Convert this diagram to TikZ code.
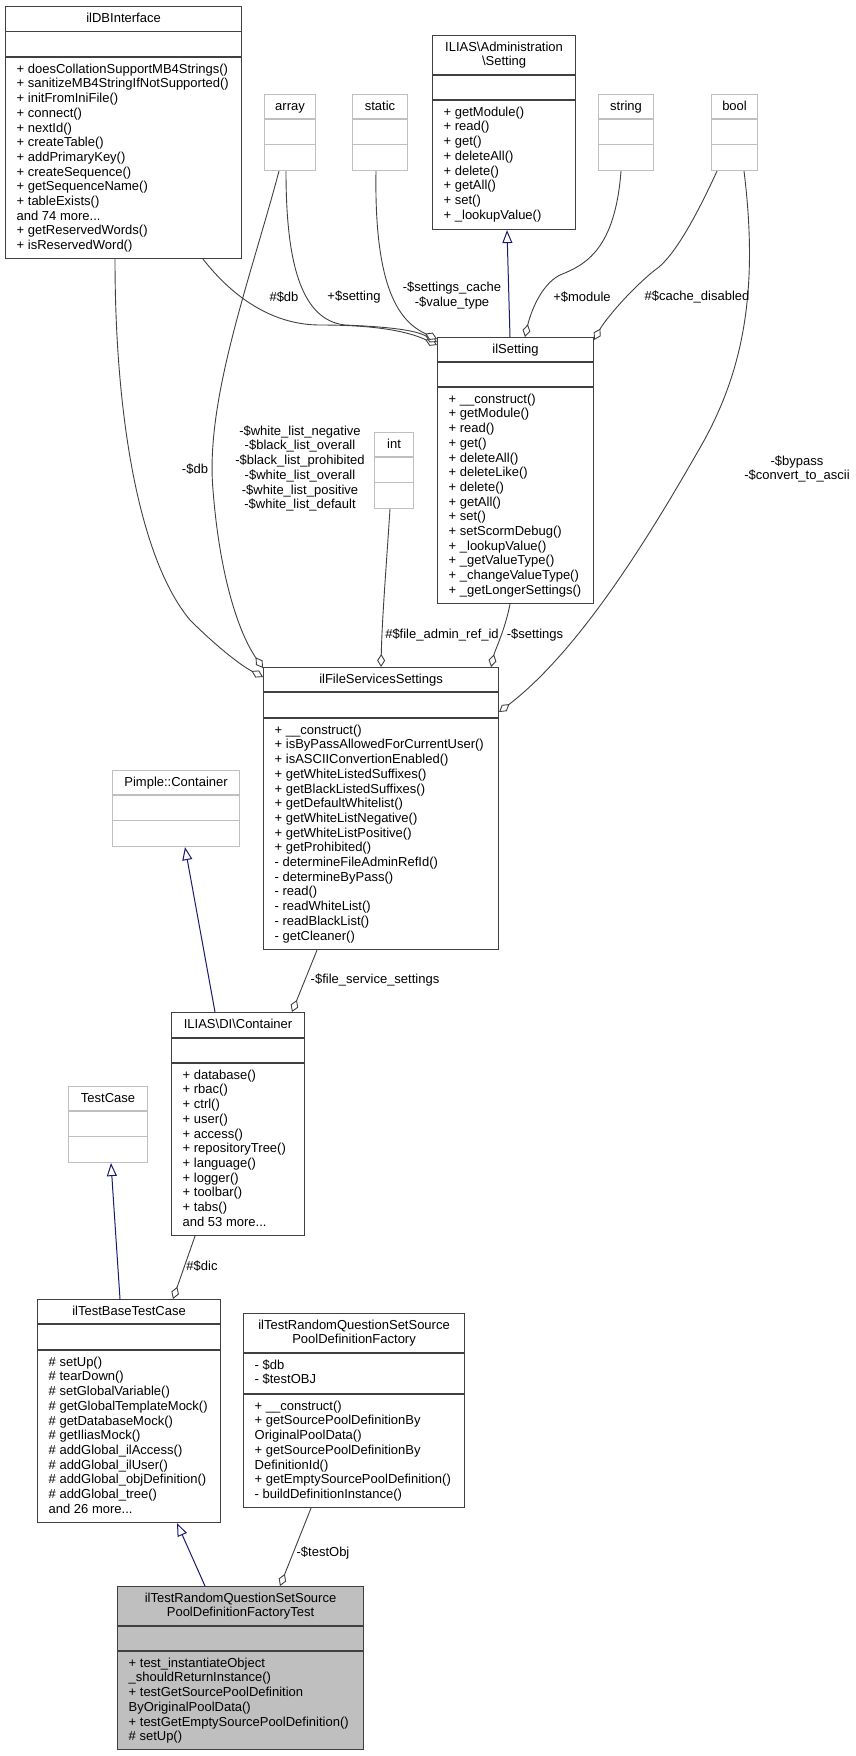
\documentclass[tikz,border=0pt]{standalone}
\usepackage{fontspec}
\setmainfont{Liberation Sans}
\usetikzlibrary{arrows.meta, calc, positioning}
\definecolor{cdark}{HTML}{404040}
\definecolor{clight}{HTML}{BFBFBF}
\definecolor{cfocus}{HTML}{BFBFBF}
\definecolor{cblue}{HTML}{191970}

\newcommand{\mst}{\rule{0pt}{10.5pt}}
% frame of one class: style, name, x, y, width, title band, attribute band, method band
\newcommand{\umlclass}[8]{%
  \node[#1, minimum width=#5pt, minimum height=#6pt+#7pt+#8pt] (#2) at (#3,#4) {};
  \draw[#1, fill=none] ($(#2.north west)+(0,#6)$) -- ++(#5,0)
    ($(#2.north west)+(0,#6+#7)$) -- ++(#5,0);
}

\tikzset{
  cls/.style={draw=cdark, line width=1.1pt, inner sep=0pt, anchor=north west},
  clsgray/.style={cls, draw=clight},
  clsfocus/.style={cls, fill=cfocus},
  ttl/.style={align=center, inner sep=0pt},
  mem/.style={align=left, inner sep=0pt},
  lbl/.style={align=center, inner sep=0pt},
  agg/.style={draw=cdark, line width=0.9pt, -{Diamond[fill=white, length=13pt, width=8pt]}},
  inh/.style={draw=cblue, line width=1pt, -{Triangle[open, length=13pt, width=10pt]}}
}

\begin{document}
\begin{tikzpicture}[x=1pt, y=-1pt, font=\fontsize{13}{14.7}\selectfont]
\useasboundingbox (0,0) rectangle (855,1756);

% class frames
\umlclass{cls}{dbi}{5}{6}{236}{25.5}{25.5}{201}
\umlclass{clsgray}{arrayt}{264}{94}{51}{25}{25.5}{25.5}
\umlclass{clsgray}{statict}{352}{94}{55}{25}{25.5}{25.5}
\umlclass{cls}{admset}{432}{35}{143}{40}{25}{129}
\umlclass{clsgray}{stringt}{598}{94}{55}{25}{25.5}{25.5}
\umlclass{clsgray}{boolt}{711}{94}{46}{25}{25.5}{25.5}
\umlclass{cls}{setting}{437}{337}{156}{25}{25}{216}
\umlclass{clsgray}{intt}{374}{432}{39}{25}{25.5}{25.5}
\umlclass{cls}{fss}{263}{667}{235}{25}{26}{231}
\umlclass{clsgray}{pimple}{112}{770}{127}{25}{25.5}{25.5}
\umlclass{cls}{dic}{171}{1012}{133}{26}{25}{172}
\umlclass{clsgray}{testcase}{68}{1086}{79}{25}{25.5}{25.5}
\umlclass{cls}{base}{37}{1299}{183}{25}{26}{172}
\umlclass{cls}{factory}{243}{1313}{221}{40}{41}{113}
\umlclass{clsfocus}{test}{117}{1586}{246}{40}{25}{98}

% titles
\node[ttl, below=5.5pt of dbi.north] (dbi-t) {\mst ilDBInterface};
\node[ttl, below=5.5pt of arrayt.north] (arrayt-t) {\mst array};
\node[ttl, below=5.5pt of statict.north] (statict-t) {\mst static};
\node[ttl, below=5.5pt of admset.north] (admset-t) {\mst ILIAS\textbackslash Administration\\\textbackslash Setting};
\node[ttl, below=5.5pt of stringt.north] (stringt-t) {\mst string};
\node[ttl, below=5.5pt of boolt.north] (boolt-t) {\mst bool};
\node[ttl, below=5.5pt of setting.north] (setting-t) {\mst ilSetting};
\node[ttl, below=5.5pt of intt.north] (intt-t) {\mst int};
\node[ttl, below=5.5pt of fss.north] (fss-t) {\mst ilFileServicesSettings};
\node[ttl, below=5.5pt of pimple.north] (pimple-t) {\mst Pimple::Container};
\node[ttl, below=5.5pt of dic.north] (dic-t) {\mst ILIAS\textbackslash DI\textbackslash Container};
\node[ttl, below=5.5pt of testcase.north] (testcase-t) {\mst TestCase};
\node[ttl, below=5.5pt of base.north] (base-t) {\mst ilTestBaseTestCase};
\node[ttl, below=5.5pt of factory.north] (factory-t) {\mst ilTestRandomQuestionSetSource\\PoolDefinitionFactory};
\node[ttl, below=5.5pt of test.north] (test-t) {\mst ilTestRandomQuestionSetSource\\PoolDefinitionFactoryTest};

% members
\node[mem, below right=56.5pt and 11.5pt of dbi.north west] (dbi-m) {\mst + doesCollationSupportMB4Strings()\\+ sanitizeMB4StringIfNotSupported()\\+ initFromIniFile()\\+ connect()\\+ nextId()\\+ createTable()\\+ addPrimaryKey()\\+ createSequence()\\+ getSequenceName()\\+ tableExists()\\and 74 more...\\+ getReservedWords()\\+ isReservedWord()};
\node[mem, below right=70.5pt and 11.5pt of admset.north west] (admset-m) {\mst + getModule()\\+ read()\\+ get()\\+ deleteAll()\\+ delete()\\+ getAll()\\+ set()\\+ \_lookupValue()};
\node[mem, below right=55.5pt and 11.5pt of setting.north west] (setting-m) {\mst + \_\_construct()\\+ getModule()\\+ read()\\+ get()\\+ deleteAll()\\+ deleteLike()\\+ delete()\\+ getAll()\\+ set()\\+ setScormDebug()\\+ \_lookupValue()\\+ \_getValueType()\\+ \_changeValueType()\\+ \_getLongerSettings()};
\node[mem, below right=56.5pt and 11.5pt of fss.north west] (fss-m) {\mst + \_\_construct()\\+ isByPassAllowedForCurrentUser()\\+ isASCIIConvertionEnabled()\\+ getWhiteListedSuffixes()\\+ getBlackListedSuffixes()\\+ getDefaultWhitelist()\\+ getWhiteListNegative()\\+ getWhiteListPositive()\\+ getProhibited()\\- determineFileAdminRefId()\\- determineByPass()\\- read()\\- readWhiteList()\\- readBlackList()\\- getCleaner()};
\node[mem, below right=56.5pt and 11.5pt of dic.north west] (dic-m) {\mst + database()\\+ rbac()\\+ ctrl()\\+ user()\\+ access()\\+ repositoryTree()\\+ language()\\+ logger()\\+ toolbar()\\+ tabs()\\and 53 more...};
\node[mem, below right=56.5pt and 11.5pt of base.north west] (base-m) {\mst \# setUp()\\\# tearDown()\\\# setGlobalVariable()\\\# getGlobalTemplateMock()\\\# getDatabaseMock()\\\# getIliasMock()\\\# addGlobal\_ilAccess()\\\# addGlobal\_ilUser()\\\# addGlobal\_objDefinition()\\\# addGlobal\_tree()\\and 26 more...};
\node[mem, below right=45.5pt and 11.5pt of factory.north west] (factory-a) {\mst - \$db\\- \$testOBJ};
\node[mem, below right=86.5pt and 11.5pt of factory.north west] (factory-m) {\mst + \_\_construct()\\+ getSourcePoolDefinitionBy\\OriginalPoolData()\\+ getSourcePoolDefinitionBy\\DefinitionId()\\+ getEmptySourcePoolDefinition()\\- buildDefinitionInstance()};
\node[mem, below right=70.5pt and 11.5pt of test.north west] (test-m) {\mst + test\_instantiateObject\\\_shouldReturnInstance()\\+ testGetSourcePoolDefinition\\ByOriginalPoolData()\\+ testGetEmptySourcePoolDefinition()\\\# setUp()};

% inheritance
\draw[inh] ($(setting.north west)+(73,0)$) -- ($(admset.south west)+(75,0)$);
\draw[inh] ($(dic.north west)+(44,0)$) -- ($(pimple.south west)+(73,0)$);
\draw[inh] ($(base.north west)+(83,0)$) -- ($(testcase.south west)+(43,0)$);
\draw[inh] ($(test.north west)+(88,0)$) -- ($(base.south west)+(140,0)$);

% aggregation
\draw[agg] ($(dbi.south west)+(198,0)$) .. controls (235,300) and (275,325) .. (320,325) .. controls (370,325) and (405,330) .. ($(setting.north west)+(0,8)$);
\draw[agg] ($(arrayt.south west)+(22,0)$) .. controls (286,260) and (300,320) .. (345,325) .. controls (390,327) and (415,330) .. ($(setting.north west)+(0,5)$);
\draw[agg] ($(statict.south west)+(24,0)$) .. controls (374,290) and (400,322) .. ($(setting.north west)+(0,2)$);
\draw[agg] ($(stringt.south west)+(23,0)$) .. controls (615,250) and (585,265) .. (560,275) .. controls (540,285) and (530,315) .. ($(setting.north west)+(88,0)$);
\draw[agg] ($(boolt.south west)+(6,0)$) .. controls (690,230) and (670,260) .. (655,270) .. controls (630,290) and (605,320) .. ($(setting.north east)+(0,3)$);
\draw[agg] ($(boolt.south west)+(33,0)$) .. controls (760,300) and (740,380) .. (697,453) .. controls (650,535) and (580,650) .. ($(fss.north east)+(0,45)$);
\draw[agg] ($(dbi.south west)+(110,0)$) .. controls (115,420) and (140,560) .. (190,620) .. controls (215,645) and (240,665) .. ($(fss.north west)+(0,10)$);
\draw[agg] ($(arrayt.south west)+(15,0)$) .. controls (250,280) and (205,400) .. (213,490) .. controls (220,580) and (240,635) .. ($(fss.north west)+(0,1)$);
\draw[agg] ($(intt.south west)+(16,0)$) .. controls (386,570) and (382,620) .. ($(fss.north west)+(118,0)$);
\draw[agg] ($(setting.south west)+(73,0)$) .. controls (505,630) and (495,650) .. ($(fss.north west)+(228,0)$);
\draw[agg] ($(fss.south west)+(54,0)$) -- ($(dic.north west)+(121,0)$);
\draw[agg] ($(dic.south west)+(24,0)$) -- ($(base.north west)+(136,0)$);
\draw[agg] ($(factory.south west)+(68,0)$) -- ($(test.north west)+(163,0)$);

% edge labels
\node[lbl] (l-db) at (284,297) {\#\$db};
\node[lbl] (l-setting) at (354,297) {+\$setting};
\node[lbl] (l-cache) at (452,295.5) {-\$settings\_cache\\-\$value\_type};
\node[lbl] (l-module) at (582,297) {+\$module};
\node[lbl] (l-disabled) at (697,297) {\#\$cache\_disabled};
\node[lbl] (l-bypass) at (797,469) {-\$bypass\\-\$convert\_to\_ascii};
\node[lbl] (l-fdb) at (195,469) {-\$db};
\node[lbl] (l-lists) at (300,468.5) {-\$white\_list\_negative\\-\$black\_list\_overall\\-\$black\_list\_prohibited\\-\$white\_list\_overall\\-\$white\_list\_positive\\-\$white\_list\_default};
\node[lbl] (l-refid) at (442,635) {\#\$file\_admin\_ref\_id};
\node[lbl] (l-settings) at (535,635) {-\$settings};
\node[lbl] (l-fss) at (375,980) {-\$file\_service\_settings};
\node[lbl] (l-dic) at (202,1266) {\#\$dic};
\node[lbl] (l-testobj) at (323,1553) {-\$testObj};
\end{tikzpicture}
\end{document}
